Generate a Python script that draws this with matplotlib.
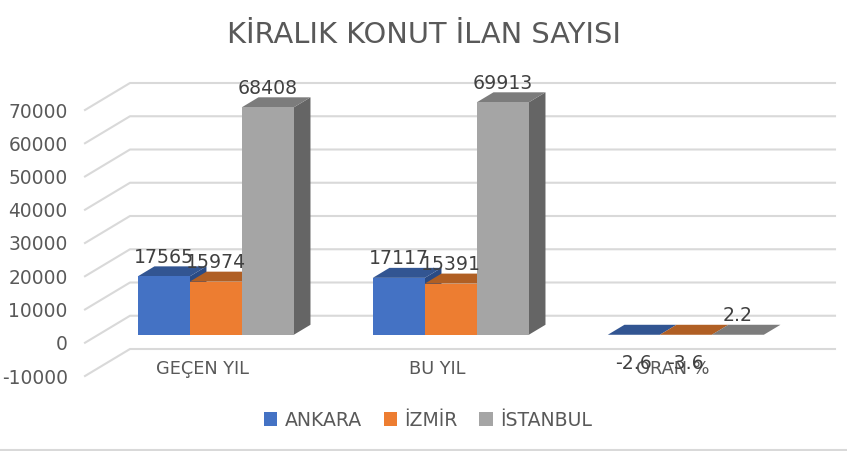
"""Kiralik konut ilan sayisi, Excel style 3D clustered columns."""

import numpy as np
import matplotlib.pyplot as plt
from matplotlib.lines import Line2D
from matplotlib.patches import Patch, Polygon


categories = ["GEÇEN YIL", "BU YIL", "ORAN %"]
series_names = ["ANKARA", "İZMİR", "İSTANBUL"]
ankara = [17565, 17117, -2.6]
izmir = [15974, 15391, -3.6]
istanbul = [68408, 69913, 2.2]
y_ticks = [-10000, 0, 10000, 20000, 30000, 40000, 50000, 60000, 70000]

front_colors = ["#4472C4", "#ED7D31", "#A5A5A5"]
top_colors = ["#325592", "#B05F24", "#7C7C7C"]
side_colors = ["#2A4B85", "#9C5420", "#656565"]
text_color = "#595959"
grid_color = "#D9D9D9"

plt.rcParams["font.family"] = ["DejaVu Sans"]

W, H = 847, 451
fig = plt.figure(figsize=(W / 100, H / 100), dpi=100)
ax = fig.add_axes([85 / W, (H - 376) / H, 705 / W, 266 / H])
ax.set_xlim(-0.5, 2.5)
ax.set_ylim(-10000, 70000)
for spine in ax.spines.values():
    spine.set_visible(False)

# depth of the box, as shift in data units between front and back wall
depth_x = 45 / 235
depth_y = 8120
bar_front = 0.296
bar_depth = 0.37
bar_width = 0.2213


def project(x, v, d):
    return (x + d * depth_x, v + d * depth_y)


# walls
for tick in y_ticks:
    ax.plot(
        [project(-0.5, tick, 0)[0], project(-0.5, tick, 1)[0], project(2.5, tick, 1)[0]],
        [project(-0.5, tick, 0)[1], project(-0.5, tick, 1)[1], project(2.5, tick, 1)[1]],
        color=grid_color,
        linewidth=1.5,
        clip_on=False,
        zorder=1,
    )

for i, values in enumerate([ankara, izmir, istanbul]):
    for j, value in enumerate(values):
        x0 = j + (i - 1.5) * bar_width
        x1 = x0 + bar_width
        d0 = bar_front
        d1 = bar_front + bar_depth
        side = [project(x1, 0, d0), project(x1, 0, d1), project(x1, value, d1), project(x1, value, d0)]
        top = [project(x0, value, d0), project(x0, value, d1), project(x1, value, d1), project(x1, value, d0)]
        front = [project(x0, 0, d0), project(x1, 0, d0), project(x1, value, d0), project(x0, value, d0)]
        ax.add_patch(Polygon(side, facecolor=side_colors[i], edgecolor="none", clip_on=False, zorder=2))
        ax.add_patch(Polygon(top, facecolor=top_colors[i], edgecolor="none", clip_on=False, zorder=2))
        ax.add_patch(Polygon(front, facecolor=front_colors[i], edgecolor="none", clip_on=False, zorder=2))

for i, values in enumerate([ankara, izmir, istanbul]):
    for j, value in enumerate(values):
        xc = j + (i - 1) * bar_width
        ax.annotate(
            f"{value:g}",
            project(xc, max(value, 0), bar_front),
            xytext=(0, 13.7 if value > 0 else -20.5),
            textcoords="offset points",
            ha="center",
            va="center",
            fontsize=13.6,
            color="#404040",
            annotation_clip=False,
            zorder=20,
        )

ax.set_xticks(range(len(categories)), categories)
ax.set_yticks(y_ticks, [str(t) for t in y_ticks])
ax.tick_params(axis="x", length=0, pad=-11.5, labelsize=12.8, labelcolor=text_color)
ax.tick_params(axis="y", length=0, pad=12.5, labelsize=13.4, labelcolor=text_color)

fig.text(424 / W, 1 - 35 / H, "KİRALIK KONUT İLAN SAYISI", ha="center", va="center", fontsize=20.8, color=text_color)

handles = [Patch(facecolor=c, label=name) for c, name in zip(front_colors, series_names)]
fig.legend(
    handles=handles,
    loc="center",
    bbox_to_anchor=(428 / W, 1 - 420 / H),
    ncols=3,
    frameon=False,
    fontsize=13.6,
    labelcolor=text_color,
    handlelength=0.7,
    handleheight=0.7,
    handletextpad=0.4,
    columnspacing=1.15,
)
fig.add_artist(Line2D([0, 1], [1 - 449.5 / H] * 2, color=grid_color, linewidth=1.5))

fig.savefig("out.png", dpi=100)
